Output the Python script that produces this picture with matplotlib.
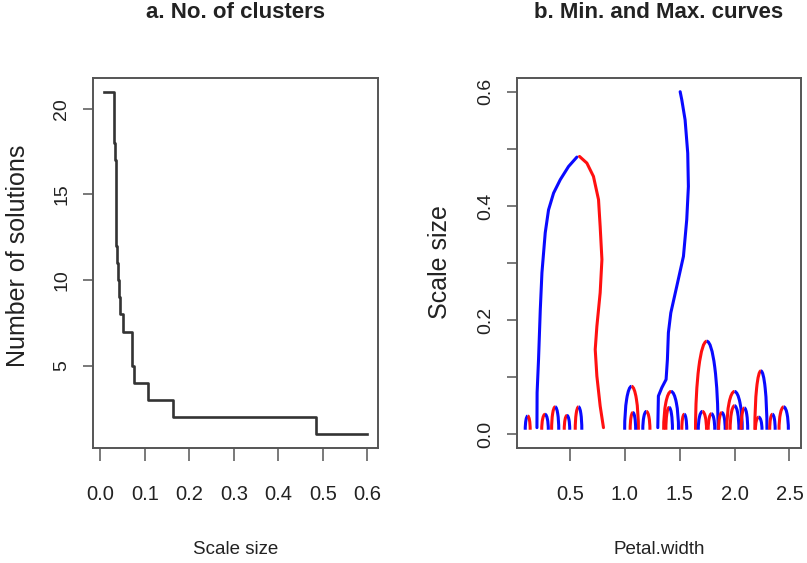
import matplotlib
matplotlib.use("Agg")
import matplotlib.pyplot as plt
from matplotlib.patches import Arc

plt.rcParams["font.family"] = ["Liberation Sans", "DejaVu Sans"]

# ---- panel a: number of solutions against scale size (step curve) ----
scale_steps = [0.007, 0.030, 0.0305, 0.031, 0.033, 0.034, 0.0345, 0.035, 0.0355,
               0.036, 0.037, 0.040, 0.042, 0.045, 0.050, 0.071, 0.072, 0.075,
               0.108, 0.162, 0.484, 0.600]
n_solutions = [21, 20, 19, 18, 17, 16, 15, 14, 13, 12, 11, 10, 9, 8, 7, 6, 5, 4,
               3, 2, 1, 1]
a_xticks = [0.0, 0.1, 0.2, 0.3, 0.4, 0.5, 0.6]
a_yticks = [5, 10, 15, 20]

# ---- panel b: min (red) and max (blue) curves over Petal.width ----
# long curves given as (petal width, scale) samples
big_max_left_x = [0.2015, 0.203, 0.216, 0.232, 0.247, 0.277, 0.307, 0.353, 0.414, 0.489, 0.565]
big_max_left_y = [0.0117, 0.073, 0.131, 0.2185, 0.283, 0.353, 0.393, 0.4225, 0.446, 0.469, 0.4855]
big_min_x = [0.589, 0.656, 0.716, 0.762, 0.777, 0.793, 0.777, 0.747, 0.732, 0.747, 0.777, 0.807]
big_min_y = [0.4866, 0.475, 0.4516, 0.411, 0.364, 0.306, 0.248, 0.189, 0.1486, 0.102, 0.0495, 0.0117]
big_max_right_x = [1.3015, 1.307, 1.338, 1.377, 1.389, 1.398, 1.42, 1.474, 1.535, 1.565,
                   1.58, 1.574, 1.55, 1.52, 1.505]
big_max_right_y = [0.0117, 0.067, 0.0816, 0.096, 0.131, 0.178, 0.2127, 0.259, 0.3117, 0.376,
                   0.434, 0.4925, 0.5507, 0.5857, 0.600]

# short min/max pairs that merge: left foot, right foot, merge scale, colours
arc_left = [0.095, 0.245, 0.335, 0.450, 0.550,
            1.000, 1.050, 1.165, 1.355, 1.375, 1.520, 1.645, 1.670, 1.760,
            1.855, 1.930, 1.960, 2.060, 2.185, 2.190, 2.320, 2.405]
arc_right = [0.140, 0.305, 0.400, 0.500, 0.610,
             1.125, 1.100, 1.230, 1.490, 1.435, 1.565, 1.850, 1.745, 1.820,
             1.915, 2.070, 2.040, 2.120, 2.295, 2.250, 2.370, 2.490]
arc_top = [0.032, 0.035, 0.048, 0.033, 0.048,
           0.084, 0.038, 0.040, 0.075, 0.047, 0.035, 0.163, 0.040, 0.036,
           0.038, 0.075, 0.050, 0.046, 0.111, 0.030, 0.035, 0.048]
arc_left_kind = ["max", "min", "min", "min", "min",
                 "max", "min", "max", "min", "min", "min", "min", "max", "min",
                 "min", "min", "min", "min", "min", "min", "min", "min"]
arc_base = 0.008

b_xticks = [0.5, 1.0, 1.5, 2.0, 2.5]
b_yticks = [0.0, 0.1, 0.2, 0.3, 0.4, 0.5, 0.6]
b_ylabels = ["0.0", "", "0.2", "", "0.4", "", "0.6"]

BLUE = "#0a0aff"
RED = "#ff1010"
AX_COLOR = "#555555"
TXT = "#222222"

W, H = 807, 563
fig = plt.figure(figsize=(W / 100, H / 100), dpi=100)
ax_a = fig.add_axes([93 / W, 1 - 448 / H, 285 / W, 370 / H])
ax_b = fig.add_axes([517 / W, 1 - 448 / H, 284 / W, 370 / H])


def style(ax):
    for sp in ax.spines.values():
        sp.set_color(AX_COLOR)
        sp.set_linewidth(1.4)
    ax.tick_params(axis="x", direction="out", length=9.5, width=1.1, color=AX_COLOR,
                   pad=17, labelsize=14.5, labelcolor=TXT)
    ax.tick_params(axis="y", direction="out", length=7.5, width=1.1, color=AX_COLOR,
                   pad=9, labelsize=14, labelcolor=TXT)


# panel a
ax_a.step(scale_steps, n_solutions, where="post", color="#333333", lw=1.9)
ax_a.set_xlim(-0.0167, 0.6237)
ax_a.set_ylim(0.2, 21.8)
ax_a.set_xticks(a_xticks)
ax_a.set_xticklabels([f"{v:.1f}" for v in a_xticks])
ax_a.set_yticks(a_yticks)
ax_a.set_yticklabels([str(v) for v in a_yticks], rotation=90, va="center")
style(ax_a)
ax_a.set_title("a. No. of clusters", fontsize=16, fontweight="bold", color=TXT,
               y=1 + (78 - 21) / 370, va="center")
ax_a.set_xlabel("Scale size", fontsize=13.5, color=TXT)
ax_a.xaxis.set_label_coords(0.5, (448 - 549) / 370)
ax_a.xaxis.label.set_va("center")
ax_a.set_ylabel("Number of solutions", fontsize=18, color=TXT)
ax_a.yaxis.set_label_coords((18 - 93) / 285, 1 - (256 - 78) / 370)
ax_a.yaxis.label.set_va("center")

# panel b
lw = 2.2
ax_b.plot(big_max_left_x, big_max_left_y, color=BLUE, lw=lw, solid_capstyle="round")
ax_b.plot(big_min_x, big_min_y, color=RED, lw=lw, solid_capstyle="round")
ax_b.plot(big_max_right_x, big_max_right_y, color=BLUE, lw=lw, solid_capstyle="round")
for xl, xr, top, kind in zip(arc_left, arc_right, arc_top, arc_left_kind):
    xc = (xl + xr) / 2
    left_col, right_col = (BLUE, RED) if kind == "max" else (RED, BLUE)
    for t1, t2, col in ((90, 180, left_col), (0, 90, right_col)):
        ax_b.add_patch(Arc((xc, arc_base), xr - xl, 2 * (top - arc_base),
                           theta1=t1, theta2=t2, color=col, lw=lw))
ax_b.set_xlim(0.02, 2.605)
ax_b.set_ylim(-0.024, 0.624)
ax_b.set_xticks(b_xticks)
ax_b.set_xticklabels([f"{v:.1f}" for v in b_xticks])
ax_b.set_yticks(b_yticks)
ax_b.set_yticklabels(b_ylabels, rotation=90, va="center")
style(ax_b)
ax_b.set_title("b. Min. and Max. curves", fontsize=16, fontweight="bold", color=TXT,
               y=1 + (78 - 21) / 370, va="center")
ax_b.set_xlabel("Petal.width", fontsize=13.5, color=TXT)
ax_b.xaxis.set_label_coords(0.5, (448 - 549) / 370)
ax_b.xaxis.label.set_va("center")
ax_b.set_ylabel("Scale size", fontsize=18, color=TXT)
ax_b.yaxis.set_label_coords((440 - 517) / 284, 1 - (262 - 78) / 370)
ax_b.yaxis.label.set_va("center")

fig.savefig("out.png", dpi=100, facecolor="white")
